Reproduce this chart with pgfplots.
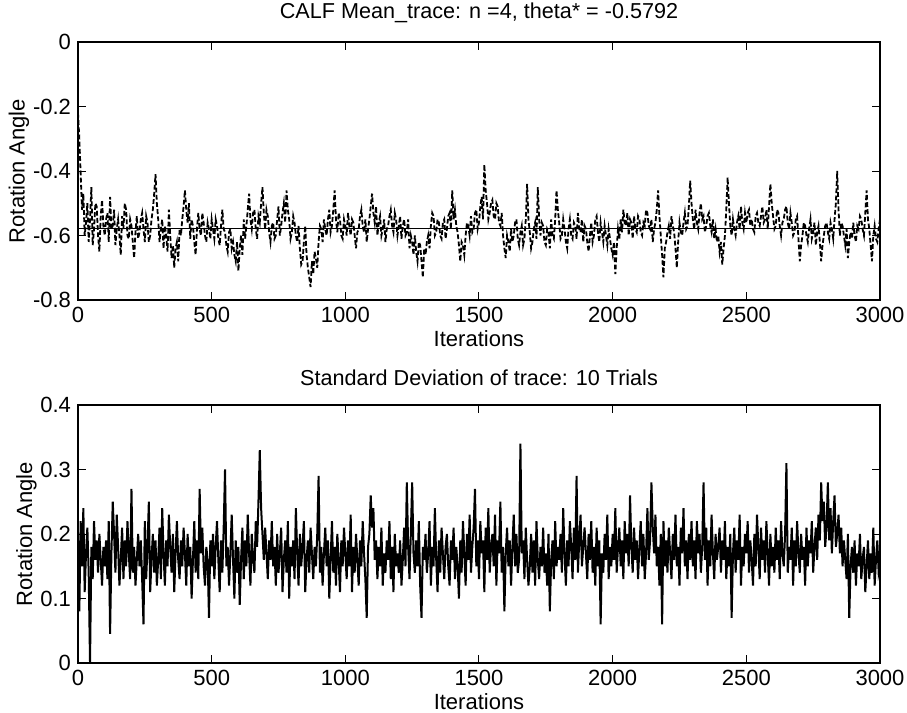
\documentclass[border=0pt]{standalone}
\usepackage{fontspec}
\setmainfont{Liberation Sans}
\usepackage{pgfplots}
\pgfplotsset{compat=1.18}
\pgfplotsset{
  matlab/.style={
    scale only axis, width=401pt, height=129pt,
    xmin=0, xmax=3000,
    xtick={0,500,1000,1500,2000,2500,3000},
    tick align=inside, major tick length=4pt,
    tick style={black, line width=0.5pt},
    axis line style={line width=0.6pt},
    /pgf/number format/assume math mode=true,
    /pgf/number format/1000 sep={},
    tick label style={font=\fontsize{11}{13}\selectfont},
    label style={font=\fontsize{11}{13}\selectfont},
    title style={font=\fontsize{10.8}{12}\selectfont},
    xlabel={Iterations}, ylabel={Rotation Angle},
    xlabel style={yshift=3pt},
    ylabel style={yshift=-5pt},
  }
}
\begin{document}
\begin{tikzpicture}
\useasboundingbox (-39pt,-206.5pt) rectangle (414.5pt,150pt);
% mean trace
\begin{axis}[matlab, at={(0,0)},
  ymin=-0.8, ymax=0, ytick={-0.8,-0.6,-0.4,-0.2,0},
  yticklabel style={/pgf/number format/fixed, /pgf/number format/precision=1},
  title={CALF Mean\_trace: n =4, theta* = -0.5792}]
\addplot[black, line width=0.9pt, dash pattern=on 2.4pt off 1.2pt] coordinates {
(0,-.22)(5,-.30)(10,-.41)(15,-.52)(20,-.47)(25,-.60)(30,-.56)(35,-.50)(40,-.62)(45,-.55)(50,-.45)(55,-.63)(60,-.58)(65,-.50)(70,-.51)(75,-.60)(80,-.65)(85,-.54)(90,-.49)(95,-.57)
(100,-.60)(105,-.55)(110,-.53)(115,-.62)(120,-.48)(125,-.58)(130,-.57)(135,-.52)(140,-.63)(145,-.58)(150,-.55)(155,-.60)(160,-.66)(165,-.54)(170,-.58)(175,-.50)(180,-.52)(185,-.60)(190,-.61)(195,-.55)
(200,-.57)(205,-.62)(210,-.67)(215,-.59)(220,-.54)(225,-.61)(230,-.59)(235,-.55)(240,-.53)(245,-.58)(250,-.62)(255,-.54)(260,-.56)(265,-.62)(270,-.60)(275,-.55)(280,-.52)(285,-.47)(290,-.41)(295,-.50)
(300,-.55)(305,-.62)(310,-.58)(315,-.55)(320,-.64)(325,-.57)(330,-.60)(335,-.65)(340,-.52)(345,-.60)(350,-.67)(355,-.63)(360,-.70)(365,-.64)(370,-.62)(375,-.68)(380,-.58)(385,-.60)(390,-.55)(395,-.51)
(400,-.46)(405,-.52)(410,-.56)(415,-.50)(420,-.61)(425,-.55)(430,-.57)(435,-.62)(440,-.66)(445,-.58)(450,-.53)(455,-.58)(460,-.60)(465,-.53)(470,-.56)(475,-.60)(480,-.62)(485,-.56)(490,-.58)(495,-.61)
(500,-.55)(505,-.58)(510,-.61)(515,-.55)(520,-.57)(525,-.61)(530,-.63)(535,-.57)(540,-.52)(545,-.58)(550,-.59)(555,-.63)(560,-.65)(565,-.59)(570,-.58)(575,-.64)(580,-.62)(585,-.66)(590,-.68)(595,-.62)
(600,-.71)(605,-.64)(610,-.60)(615,-.66)(620,-.55)(625,-.61)(630,-.57)(635,-.52)(640,-.47)(645,-.55)(650,-.58)(655,-.53)(660,-.52)(665,-.58)(670,-.61)(675,-.54)(680,-.56)(685,-.50)(690,-.45)(695,-.53)
(700,-.58)(705,-.52)(710,-.54)(715,-.59)(720,-.62)(725,-.57)(730,-.56)(735,-.61)(740,-.60)(745,-.55)(750,-.51)(755,-.60)(760,-.57)(765,-.53)(770,-.50)(775,-.56)(780,-.46)(785,-.52)(790,-.55)(795,-.61)
(800,-.59)(805,-.54)(810,-.56)(815,-.60)(820,-.62)(825,-.57)(830,-.64)(835,-.69)(840,-.68)(845,-.62)(850,-.57)(855,-.66)(860,-.70)(865,-.73)(870,-.76)(875,-.68)(880,-.72)(885,-.65)(890,-.67)(895,-.70)
(900,-.62)(905,-.57)(910,-.58)(915,-.62)(920,-.55)(925,-.58)(930,-.60)(935,-.55)(940,-.52)(945,-.59)(950,-.57)(955,-.52)(960,-.46)(965,-.55)(970,-.59)(975,-.53)(980,-.55)(985,-.60)(990,-.61)(995,-.55)
(1000,-.57)(1005,-.60)(1010,-.53)(1015,-.57)(1020,-.60)(1025,-.55)(1030,-.56)(1035,-.60)(1040,-.64)(1045,-.59)(1050,-.58)(1055,-.54)(1060,-.52)(1065,-.57)(1070,-.59)(1075,-.55)(1080,-.62)(1085,-.58)(1090,-.55)(1095,-.51)
(1100,-.47)(1105,-.53)(1110,-.56)(1115,-.51)(1120,-.60)(1125,-.56)(1130,-.54)(1135,-.60)(1140,-.58)(1145,-.55)(1150,-.62)(1155,-.58)(1160,-.57)(1165,-.54)(1170,-.52)(1175,-.57)(1180,-.59)(1185,-.53)(1190,-.55)(1195,-.60)
(1200,-.57)(1205,-.54)(1210,-.61)(1215,-.57)(1220,-.55)(1225,-.60)(1230,-.59)(1235,-.55)(1240,-.64)(1245,-.60)(1250,-.62)(1255,-.66)(1260,-.60)(1265,-.65)(1270,-.68)(1275,-.62)(1280,-.63)(1285,-.68)(1290,-.73)(1295,-.64)
(1300,-.66)(1305,-.62)(1310,-.60)(1315,-.64)(1320,-.57)(1325,-.53)(1330,-.54)(1335,-.60)(1340,-.59)(1345,-.55)(1350,-.56)(1355,-.60)(1360,-.61)(1365,-.56)(1370,-.55)(1375,-.61)(1380,-.58)(1385,-.54)(1390,-.53)(1395,-.58)
(1400,-.46)(1405,-.55)(1410,-.52)(1415,-.57)(1420,-.59)(1425,-.63)(1430,-.68)(1435,-.62)(1440,-.63)(1445,-.66)(1450,-.60)(1455,-.56)(1460,-.57)(1465,-.60)(1470,-.54)(1475,-.59)(1480,-.58)(1485,-.53)(1490,-.52)(1495,-.58)
(1500,-.56)(1505,-.51)(1510,-.48)(1515,-.55)(1520,-.38)(1525,-.46)(1530,-.50)(1535,-.55)(1540,-.53)(1545,-.50)(1550,-.49)(1555,-.54)(1560,-.55)(1565,-.50)(1570,-.51)(1575,-.56)(1580,-.57)(1585,-.53)(1590,-.60)(1595,-.64)
(1600,-.67)(1605,-.60)(1610,-.62)(1615,-.65)(1620,-.58)(1625,-.62)(1630,-.60)(1635,-.56)(1640,-.55)(1645,-.61)(1650,-.63)(1655,-.59)(1660,-.57)(1665,-.63)(1670,-.61)(1675,-.55)(1680,-.44)(1685,-.55)(1690,-.59)(1695,-.64)
(1700,-.62)(1705,-.58)(1710,-.56)(1715,-.61)(1720,-.45)(1725,-.55)(1730,-.60)(1735,-.56)(1740,-.57)(1745,-.62)(1750,-.63)(1755,-.58)(1760,-.59)(1765,-.64)(1770,-.55)(1775,-.60)(1780,-.61)(1785,-.55)(1790,-.46)(1795,-.52)
(1800,-.56)(1805,-.61)(1810,-.60)(1815,-.55)(1820,-.58)(1825,-.62)(1830,-.64)(1835,-.58)(1840,-.55)(1845,-.60)(1850,-.61)(1855,-.56)(1860,-.57)(1865,-.61)(1870,-.53)(1875,-.58)(1880,-.59)(1885,-.55)(1890,-.62)(1895,-.57)
(1900,-.58)(1905,-.62)(1910,-.65)(1915,-.60)(1920,-.56)(1925,-.62)(1930,-.60)(1935,-.55)(1940,-.54)(1945,-.59)(1950,-.62)(1955,-.56)(1960,-.59)(1965,-.62)(1970,-.57)(1975,-.60)(1980,-.63)(1985,-.58)(1990,-.61)(1995,-.64)
(2000,-.66)(2005,-.62)(2010,-.72)(2015,-.64)(2020,-.58)(2025,-.61)(2030,-.55)(2035,-.59)(2040,-.52)(2045,-.56)(2050,-.57)(2055,-.53)(2060,-.60)(2065,-.55)(2070,-.56)(2075,-.61)(2080,-.54)(2085,-.58)(2090,-.59)(2095,-.54)
(2100,-.55)(2105,-.59)(2110,-.60)(2115,-.56)(2120,-.57)(2125,-.52)(2130,-.53)(2135,-.57)(2140,-.58)(2145,-.55)(2150,-.62)(2155,-.58)(2160,-.56)(2165,-.52)(2170,-.46)(2175,-.54)(2180,-.60)(2185,-.66)(2190,-.73)(2195,-.64)
(2200,-.62)(2205,-.59)(2210,-.57)(2215,-.61)(2220,-.54)(2225,-.57)(2230,-.59)(2235,-.64)(2240,-.70)(2245,-.62)(2250,-.56)(2255,-.59)(2260,-.60)(2265,-.56)(2270,-.53)(2275,-.58)(2280,-.57)(2285,-.51)(2290,-.43)(2295,-.50)
(2300,-.55)(2305,-.58)(2310,-.52)(2315,-.56)(2320,-.58)(2325,-.53)(2330,-.50)(2335,-.55)(2340,-.54)(2345,-.59)(2350,-.57)(2355,-.54)(2360,-.53)(2365,-.57)(2370,-.59)(2375,-.55)(2380,-.61)(2385,-.58)(2390,-.62)(2395,-.60)
(2400,-.65)(2405,-.62)(2410,-.69)(2415,-.64)(2420,-.60)(2425,-.52)(2430,-.42)(2435,-.50)(2440,-.57)(2445,-.60)(2450,-.55)(2455,-.58)(2460,-.60)(2465,-.56)(2470,-.54)(2475,-.58)(2480,-.51)(2485,-.56)(2490,-.58)(2495,-.53)
(2500,-.56)(2505,-.53)(2510,-.52)(2515,-.57)(2520,-.55)(2525,-.58)(2530,-.59)(2535,-.54)(2540,-.53)(2545,-.56)(2550,-.57)(2555,-.54)(2560,-.51)(2565,-.56)(2570,-.55)(2575,-.52)(2580,-.58)(2585,-.51)(2590,-.44)(2595,-.50)
(2600,-.54)(2605,-.58)(2610,-.57)(2615,-.52)(2620,-.53)(2625,-.57)(2630,-.60)(2635,-.56)(2640,-.55)(2645,-.52)(2650,-.51)(2655,-.56)(2660,-.58)(2665,-.53)(2670,-.56)(2675,-.60)(2680,-.59)(2685,-.55)(2690,-.54)(2695,-.61)
(2700,-.68)(2705,-.63)(2710,-.60)(2715,-.56)(2720,-.57)(2725,-.60)(2730,-.62)(2735,-.58)(2740,-.55)(2745,-.61)(2750,-.59)(2755,-.56)(2760,-.63)(2765,-.59)(2770,-.57)(2775,-.62)(2780,-.68)(2785,-.63)(2790,-.60)(2795,-.57)
(2800,-.56)(2805,-.59)(2810,-.61)(2815,-.56)(2820,-.58)(2825,-.61)(2830,-.55)(2835,-.50)(2840,-.40)(2845,-.52)(2850,-.60)(2855,-.56)(2860,-.57)(2865,-.60)(2870,-.63)(2875,-.58)(2880,-.67)(2885,-.62)(2890,-.59)(2895,-.61)
(2900,-.56)(2905,-.60)(2910,-.62)(2915,-.57)(2920,-.58)(2925,-.54)(2930,-.55)(2935,-.58)(2940,-.60)(2945,-.53)(2950,-.46)(2955,-.55)(2960,-.58)(2965,-.63)(2970,-.68)(2975,-.60)(2980,-.57)(2985,-.61)(2990,-.62)(2995,-.58)
(3000,-.55)};
\addplot[black, line width=0.6pt] coordinates {(0,-0.5792) (3000,-0.5792)};
\end{axis}
% standard deviation
\begin{axis}[matlab, at={(0,-181.5pt)},
  ymin=0, ymax=0.4, ytick={0,0.1,0.2,0.3,0.4},
  title={Standard Deviation of trace: 10 Trials}]
\addplot[black, line width=1pt] coordinates {
(0,.19)(5,.08)(10,.22)(15,.15)(20,.24)(25,.11)(30,.17)(35,.21)(40,.14)(45,.00)(50,.18)(55,.13)(60,.22)(65,.16)(70,.19)(75,.14)(80,.20)(85,.16)(90,.12)(95,.18)
(100,.15)(105,.19)(110,.13)(115,.22)(120,.045)(125,.17)(130,.25)(135,.20)(140,.14)(145,.23)(150,.18)(155,.12)(160,.16)(165,.21)(170,.13)(175,.19)(180,.15)(185,.22)(190,.17)(195,.13)
(200,.27)(205,.14)(210,.18)(215,.12)(220,.16)(225,.20)(230,.15)(235,.19)(240,.13)(245,.06)(250,.22)(255,.13)(260,.18)(265,.25)(270,.11)(275,.16)(280,.20)(285,.14)(290,.19)(295,.12)
(300,.16)(305,.21)(310,.13)(315,.24)(320,.17)(325,.12)(330,.19)(335,.15)(340,.23)(345,.18)(350,.14)(355,.20)(360,.11)(365,.17)(370,.22)(375,.16)(380,.13)(385,.19)(390,.15)(395,.21)
(400,.17)(405,.12)(410,.20)(415,.15)(420,.18)(425,.10)(430,.16)(435,.22)(440,.14)(445,.19)(450,.13)(455,.27)(460,.17)(465,.21)(470,.15)(475,.12)(480,.18)(485,.16)(490,.07)(495,.19)
(500,.15)(505,.20)(510,.13)(515,.18)(520,.22)(525,.16)(530,.11)(535,.19)(540,.14)(545,.21)(550,.30)(555,.15)(560,.18)(565,.12)(570,.17)(575,.23)(580,.16)(585,.10)(590,.19)(595,.14)
(600,.18)(605,.09)(610,.16)(615,.21)(620,.13)(625,.19)(630,.15)(635,.23)(640,.17)(645,.12)(650,.20)(655,.16)(660,.14)(665,.22)(670,.18)(675,.25)(680,.33)(685,.24)(690,.20)(695,.16)
(700,.21)(705,.17)(710,.13)(715,.19)(720,.16)(725,.22)(730,.15)(735,.18)(740,.12)(745,.20)(750,.14)(755,.17)(760,.21)(765,.11)(770,.16)(775,.19)(780,.14)(785,.22)(790,.10)(795,.18)
(800,.15)(805,.19)(810,.13)(815,.24)(820,.17)(825,.12)(830,.20)(835,.15)(840,.18)(845,.22)(850,.11)(855,.16)(860,.19)(865,.14)(870,.21)(875,.17)(880,.13)(885,.18)(890,.15)(895,.20)
(900,.29)(905,.14)(910,.18)(915,.12)(920,.17)(925,.21)(930,.15)(935,.19)(940,.10)(945,.16)(950,.22)(955,.14)(960,.18)(965,.12)(970,.20)(975,.16)(980,.11)(985,.19)(990,.15)(995,.21)
(1000,.17)(1005,.13)(1010,.19)(1015,.15)(1020,.23)(1025,.11)(1030,.18)(1035,.14)(1040,.20)(1045,.16)(1050,.12)(1055,.19)(1060,.15)(1065,.22)(1070,.17)(1075,.13)(1080,.07)(1085,.18)(1090,.20)(1095,.26)
(1100,.21)(1105,.24)(1110,.16)(1115,.19)(1120,.13)(1125,.18)(1130,.15)(1135,.21)(1140,.12)(1145,.17)(1150,.14)(1155,.19)(1160,.16)(1165,.22)(1170,.13)(1175,.18)(1180,.11)(1185,.20)(1190,.15)(1195,.17)
(1200,.14)(1205,.19)(1210,.12)(1215,.16)(1220,.21)(1225,.15)(1230,.28)(1235,.18)(1240,.13)(1245,.20)(1250,.28)(1255,.17)(1260,.14)(1265,.19)(1270,.15)(1275,.22)(1280,.12)(1285,.07)(1290,.18)(1295,.16)
(1300,.20)(1305,.14)(1310,.17)(1315,.22)(1320,.12)(1325,.18)(1330,.15)(1335,.24)(1340,.16)(1345,.11)(1350,.19)(1355,.14)(1360,.21)(1365,.17)(1370,.13)(1375,.18)(1380,.20)(1385,.15)(1390,.12)(1395,.19)
(1400,.16)(1405,.21)(1410,.13)(1415,.18)(1420,.15)(1425,.10)(1430,.19)(1435,.14)(1440,.22)(1445,.17)(1450,.12)(1455,.20)(1460,.16)(1465,.23)(1470,.14)(1475,.18)(1480,.21)(1485,.27)(1490,.15)(1495,.19)
(1500,.13)(1505,.22)(1510,.17)(1515,.19)(1520,.11)(1525,.21)(1530,.16)(1535,.24)(1540,.14)(1545,.18)(1550,.20)(1555,.15)(1560,.23)(1565,.12)(1570,.19)(1575,.17)(1580,.25)(1585,.14)(1590,.18)(1595,.08)
(1600,.17)(1605,.21)(1610,.15)(1615,.19)(1620,.12)(1625,.18)(1630,.23)(1635,.15)(1640,.20)(1645,.14)(1650,.16)(1655,.34)(1660,.17)(1665,.19)(1670,.13)(1675,.21)(1680,.16)(1685,.12)(1690,.15)(1695,.20)
(1700,.14)(1705,.19)(1710,.12)(1715,.22)(1720,.16)(1725,.13)(1730,.18)(1735,.15)(1740,.21)(1745,.14)(1750,.17)(1755,.12)(1760,.20)(1765,.08)(1770,.16)(1775,.19)(1780,.13)(1785,.22)(1790,.15)(1795,.18)
(1800,.16)(1805,.20)(1810,.14)(1815,.24)(1820,.17)(1825,.12)(1830,.19)(1835,.15)(1840,.22)(1845,.18)(1850,.13)(1855,.21)(1860,.16)(1865,.29)(1870,.14)(1875,.19)(1880,.23)(1885,.15)(1890,.18)(1895,.21)
(1900,.17)(1905,.13)(1910,.20)(1915,.16)(1920,.22)(1925,.14)(1930,.18)(1935,.12)(1940,.21)(1945,.15)(1950,.19)(1955,.06)(1960,.17)(1965,.14)(1970,.20)(1975,.16)(1980,.23)(1985,.13)(1990,.18)(1995,.15)
(2000,.20)(2005,.16)(2010,.24)(2015,.14)(2020,.18)(2025,.21)(2030,.15)(2035,.19)(2040,.13)(2045,.22)(2050,.17)(2055,.20)(2060,.15)(2065,.26)(2070,.18)(2075,.14)(2080,.21)(2085,.16)(2090,.19)(2095,.13)
(2100,.18)(2105,.22)(2110,.15)(2115,.20)(2120,.13)(2125,.17)(2130,.24)(2135,.16)(2140,.19)(2145,.28)(2150,.21)(2155,.17)(2160,.23)(2165,.15)(2170,.18)(2175,.12)(2180,.20)(2185,.06)(2190,.22)(2195,.15)
(2200,.19)(2205,.14)(2210,.21)(2215,.17)(2220,.13)(2225,.20)(2230,.16)(2235,.23)(2240,.15)(2245,.18)(2250,.12)(2255,.21)(2260,.17)(2265,.24)(2270,.15)(2275,.19)(2280,.13)(2285,.20)(2290,.16)(2295,.22)
(2300,.15)(2305,.19)(2310,.13)(2315,.22)(2320,.17)(2325,.20)(2330,.14)(2335,.18)(2340,.28)(2345,.16)(2350,.21)(2355,.12)(2360,.19)(2365,.15)(2370,.23)(2375,.17)(2380,.13)(2385,.20)(2390,.16)(2395,.18)
(2400,.21)(2405,.14)(2410,.19)(2415,.16)(2420,.22)(2425,.13)(2430,.18)(2435,.15)(2440,.20)(2445,.07)(2450,.17)(2455,.21)(2460,.14)(2465,.19)(2470,.16)(2475,.23)(2480,.12)(2485,.18)(2490,.15)(2495,.20)
(2500,.17)(2505,.22)(2510,.14)(2515,.19)(2520,.16)(2525,.12)(2530,.20)(2535,.15)(2540,.23)(2545,.18)(2550,.13)(2555,.21)(2560,.16)(2565,.19)(2570,.14)(2575,.22)(2580,.17)(2585,.12)(2590,.20)(2595,.15)
(2600,.18)(2605,.14)(2610,.21)(2615,.16)(2620,.19)(2625,.13)(2630,.22)(2635,.17)(2640,.15)(2645,.20)(2650,.31)(2655,.14)(2660,.18)(2665,.16)(2670,.21)(2675,.12)(2680,.19)(2685,.15)(2690,.22)(2695,.17)
(2700,.14)(2705,.20)(2710,.16)(2715,.18)(2720,.12)(2725,.21)(2730,.15)(2735,.19)(2740,.17)(2745,.22)(2750,.14)(2755,.18)(2760,.21)(2765,.16)(2770,.23)(2775,.19)(2780,.28)(2785,.22)(2790,.25)(2795,.18)
(2800,.21)(2805,.28)(2810,.19)(2815,.24)(2820,.17)(2825,.22)(2830,.26)(2835,.18)(2840,.20)(2845,.23)(2850,.17)(2855,.21)(2860,.15)(2865,.19)(2870,.16)(2875,.13)(2880,.20)(2885,.07)(2890,.15)(2895,.18)
(2900,.14)(2905,.19)(2910,.12)(2915,.17)(2920,.15)(2925,.20)(2930,.13)(2935,.16)(2940,.18)(2945,.11)(2950,.15)(2955,.19)(2960,.13)(2965,.17)(2970,.14)(2975,.21)(2980,.12)(2985,.16)(2990,.19)(2995,.14)
(3000,.15)};
\end{axis}
\end{tikzpicture}
\end{document}
